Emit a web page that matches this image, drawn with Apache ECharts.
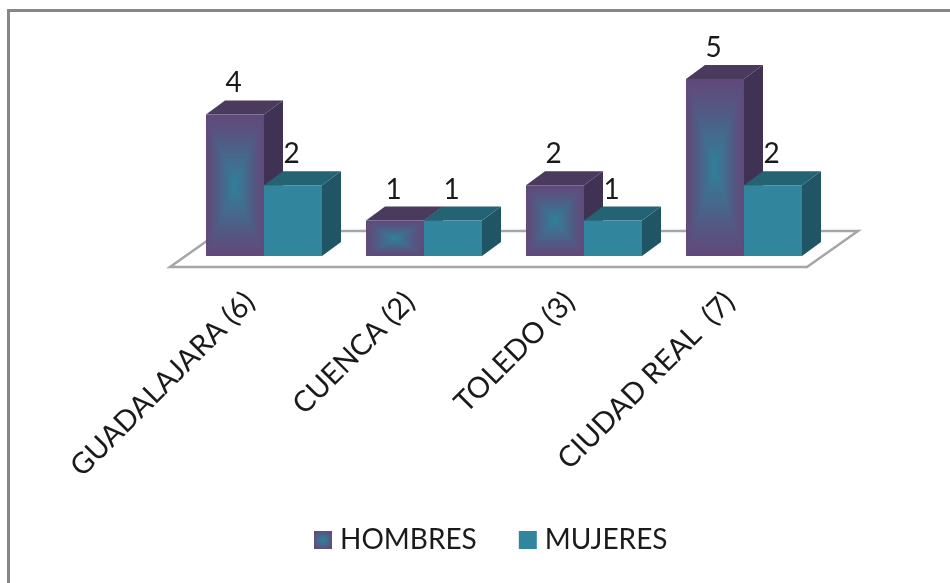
<!DOCTYPE html>
<html><head><meta charset="utf-8">
<style>html,body{margin:0;padding:0;background:#fff}#c{width:950px;height:583px}</style>
<script src="https://cdn.jsdelivr.net/npm/echarts@6/dist/echarts.min.js"></script>
</head><body><div id="c"></div>
<script>
const categories = ['GUADALAJARA (6)', 'CUENCA (2)', 'TOLEDO (3)', 'CIUDAD REAL  (7)'];
const hombres = [4, 1, 2, 5];
const mujeres = [2, 1, 1, 2];
const seriesNames = ['HOMBRES', 'MUJERES'];

const FONT = 'Lato';
const chart = echarts.init(document.getElementById('c'), null, {renderer: 'canvas'});
const DX = 19, DY = -14, BAR = 0.3625;
const PURPLE = [96, 74, 123], TEAL = [46, 131, 155];
const mix = (t) => 'rgb(' + PURPLE.map((p, i) => Math.round(p + (TEAL[i] - p) * t)).join(',') + ')';

function bar3d(seriesIdx, front, top, side, gradient) {
  return function (params, api) {
    const idx = api.value(0), val = api.value(1);
    const c = api.coord([idx, val]), b = api.coord([idx, 0]);
    const w = api.size([1, 0])[0] * BAR;
    const x = seriesIdx === 0 ? c[0] - w : c[0];
    const y = c[1], h = b[1] - c[1];
    const kids = [
      {type: 'polygon', shape: {points: [[x + w, y], [x + w + DX, y + DY], [x + w + DX, y + h + DY], [x + w, y + h]]}, style: {fill: side}},
      {type: 'polygon', shape: {points: [[x, y], [x + DX, y + DY], [x + w + DX, y + DY], [x + w, y]]}, style: {fill: top}},
      {type: 'rect', shape: {x, y, width: w, height: h}, style: {fill: front}}
    ];
    if (gradient) {
      const n = 18;
      for (let i = 1; i <= n; i++) {
        const t = i / n, ix = (w / 2) * t, iy = (h / 2) * t;
        kids.push({type: 'rect', shape: {x: x + ix, y: y + iy, width: w - 2 * ix, height: h - 2 * iy},
          style: {fill: mix(Math.pow(t, 1.15))}});
      }
    }
    kids.push({type: 'text', style: {text: String(val), x: x + w / 2 + DX / 2 - 11, y: y + DY - 17,
      align: 'center', verticalAlign: 'middle', font: '28px ' + FONT, fill: '#1a1a1a'}});
    return {type: 'group', children: kids};
  };
}

function floor(params, api) {
  const a = api.coord([0, 0]), z = api.coord([categories.length - 1, 0]);
  const half = api.size([1, 0])[0] / 2;
  const l = a[0] - half, r = z[0] + half, y = a[1];
  return {type: 'polygon', shape: {points: [[l - 14, y + 11], [r - 17, y + 11], [r + 34, y - 25], [l + 37, y - 25]]},
    style: {fill: '#fff', stroke: '#a6a6a6', lineWidth: 2.5}};
}

const legendGrad = {type: 'radial', x: 0.5, y: 0.5, r: 0.6, colorStops: [{offset: 0, color: mix(1)}, {offset: 1, color: mix(0)}]};

chart.setOption({
  animation: false,
  backgroundColor: '#fff',
  grid: {left: 184, right: 126, top: 43.6, bottom: 327},
  graphic: [{type: 'rect', silent: true, z: -1, shape: {x: 8.5, y: 10.5, width: 1000, height: 1000},
    style: {fill: 'none', stroke: '#868686', lineWidth: 3}}],
  legend: {
    data: seriesNames, left: 314, top: 526, padding: 0, itemWidth: 18, itemHeight: 18, itemGap: 42, icon: 'rect', selectedMode: false,
    textStyle: {fontFamily: FONT, fontSize: 28, color: '#1a1a1a', padding: [2, 0, 0, 3]}
  },
  xAxis: {
    type: 'category', data: categories,
    axisLine: {show: false}, axisTick: {show: false},
    axisLabel: {rotate: 45, interval: 0, margin: 27, padding: [0, 20, 0, 0], fontFamily: FONT, fontSize: 29, color: '#1a1a1a'}
  },
  yAxis: {type: 'value', min: 0, max: 6, show: false},
  series: [
    {type: 'custom', name: '_floor', silent: true, data: [[0, 0]], renderItem: floor, clip: false, z: 1},
    {type: 'custom', name: seriesNames[0], data: hombres.map((v, i) => [i, v]), clip: false, z: 2,
      itemStyle: {color: legendGrad}, renderItem: bar3d(0, mix(0), '#4a3a5e', '#3f3252', true)},
    {type: 'custom', name: seriesNames[1], data: mujeres.map((v, i) => [i, v]), clip: false, z: 3,
      itemStyle: {color: '#31859c'}, renderItem: bar3d(1, '#31859c', '#246374', '#1f5565', false)}
  ]
});
</script></body></html>
